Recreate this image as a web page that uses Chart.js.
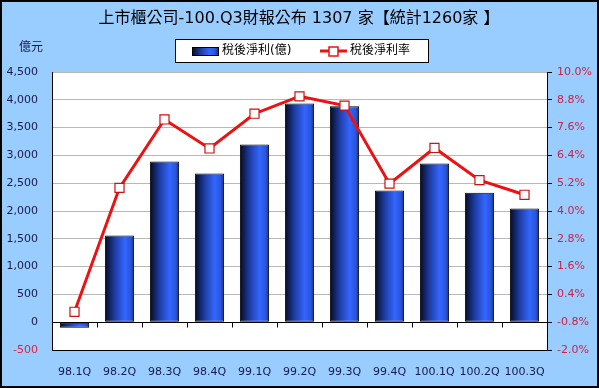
<!DOCTYPE html>
<html>
<head>
<meta charset="utf-8">
<script src="https://cdn.jsdelivr.net/npm/chart.js@4/dist/chart.umd.min.js"></script>
<style>
  html, body { margin: 0; padding: 0; background: #fff; }
  #wrap { width: 599px; height: 388px; }
</style>
</head>
<body>
<div id="wrap"><canvas id="profitChart" width="599" height="388"></canvas></div>
<script>
// 季度
const quarters = ['98.1Q', '98.2Q', '98.3Q', '98.4Q', '99.1Q', '99.2Q', '99.3Q', '99.4Q', '100.1Q', '100.2Q', '100.3Q'];
// 稅後淨利(億)
const netProfit = [-100, 1560, 2890, 2675, 3195, 3935, 3885, 2370, 2855, 2330, 2045];
// 稅後淨利率 (%)
const netMargin = [-0.35, 5.0, 7.95, 6.7, 8.2, 8.95, 8.55, 5.18, 6.72, 5.33, 4.7];

const leftTicks = [-500, 0, 500, 1000, 1500, 2000, 2500, 3000, 3500, 4000, 4500];
const rightTicks = [-2.0, -0.8, 0.4, 1.6, 2.8, 4.0, 5.2, 6.4, 7.6, 8.8, 10.0];

const titleText = '上市櫃公司-100.Q3財報公布 1307 家【統計1260家 】';
const unitText = '億元';
const seriesNames = ['稅後淨利(億)', '稅後淨利率'];

const FONT = '"DejaVu Sans", "Noto Sans CJK TC", sans-serif';
const BG = '#99ccff';
const RED = '#ee1111';

// 橫向漸層 (深藍 -> 亮藍 -> 稍暗)
function barGradient(ctx, x0, x1) {
    const g = ctx.createLinearGradient(x0, 0, x1, 0);
    g.addColorStop(0, '#050a22');
    g.addColorStop(0.35, '#1f3fa8');
    g.addColorStop(0.68, '#3366ff');
    g.addColorStop(0.88, '#2a55dd');
    g.addColorStop(1, '#1a2f80');
    return g;
}

const bgPlugin = {
    id: 'bgPlugin',
    beforeDraw(chart) {
        const { ctx, chartArea: a } = chart;
        ctx.save();
        ctx.fillStyle = BG;
        ctx.fillRect(0, 0, chart.width, chart.height);
        ctx.fillStyle = '#ffffff';
        ctx.fillRect(a.left, a.top, a.right - a.left, a.bottom - a.top);
        ctx.restore();
    },
    beforeDatasetsDraw(chart) {
        const meta = chart.getDatasetMeta(0);
        meta.data.forEach(bar => {
            const half = bar.width / 2;
            bar.options.backgroundColor = barGradient(chart.ctx, bar.x - half, bar.x + half);
        });
    },
    afterDatasetsDraw(chart) {
        // 0 軸線與類別刻度
        const { ctx, chartArea: a, scales } = chart;
        const y0 = Math.round(scales.y.getPixelForValue(0)) + 0.5;
        ctx.save();
        ctx.strokeStyle = '#000';
        ctx.lineWidth = 1;
        ctx.beginPath();
        ctx.moveTo(a.left, y0);
        ctx.lineTo(a.right, y0);
        const step = (a.right - a.left) / quarters.length;
        for (let i = 1; i < quarters.length; i++) {
            const x = Math.round(a.left + step * i) + 0.5;
            ctx.moveTo(x, y0);
            ctx.lineTo(x, y0 + 5);
        }
        ctx.stroke();
        ctx.restore();
    },
    afterDraw(chart) {
        const { ctx } = chart;
        ctx.save();
        // 外框
        ctx.strokeStyle = '#000';
        ctx.lineWidth = 2;
        ctx.strokeRect(1, 1, chart.width - 2, chart.height - 2);
        // 標題
        ctx.fillStyle = '#000';
        ctx.font = '16px ' + FONT;
        ctx.textAlign = 'center';
        ctx.textBaseline = 'middle';
        ctx.fillText(titleText, 299, 19);
        // 單位
        ctx.font = '12px ' + FONT;
        ctx.fillStyle = '#1a1a4a';
        ctx.fillText(unitText, 31, 48);
        // 圖例
        ctx.fillStyle = '#fff';
        ctx.fillRect(175, 39, 253, 23);
        ctx.strokeStyle = '#000';
        ctx.lineWidth = 1;
        ctx.strokeRect(175.5, 39.5, 253, 23);
        ctx.fillStyle = barGradient(ctx, 192, 218);
        ctx.fillRect(192, 47, 26, 8);
        ctx.strokeRect(192.5, 47.5, 26, 8);
        ctx.fillStyle = '#000';
        ctx.textAlign = 'left';
        ctx.font = '12px ' + FONT;
        ctx.fillText(seriesNames[0], 222, 51);
        ctx.strokeStyle = RED;
        ctx.lineWidth = 3;
        ctx.beginPath();
        ctx.moveTo(320, 51);
        ctx.lineTo(347, 51);
        ctx.stroke();
        ctx.fillStyle = '#fff';
        ctx.lineWidth = 1.5;
        ctx.fillRect(329, 47, 9, 9);
        ctx.strokeRect(329, 47, 9, 9);
        ctx.fillStyle = '#000';
        ctx.fillText(seriesNames[1], 350, 51);
        ctx.restore();
    }
};

new Chart(document.getElementById('profitChart').getContext('2d'), {
    type: 'bar',
    data: {
        labels: quarters,
        datasets: [{
            type: 'bar',
            label: seriesNames[0],
            data: netProfit,
            yAxisID: 'y',
            // 可程式化 -> 每根柱子有自己的 options，漸層在 beforeDatasetsDraw 補上
            backgroundColor: () => '#3366ff',
            borderColor: '#000',
            borderWidth: 1,
            borderSkipped: false,
            categoryPercentage: 1,
            barPercentage: 0.65,
            order: 2
        }, {
            type: 'line',
            label: seriesNames[1],
            data: netMargin,
            yAxisID: 'y1',
            borderColor: RED,
            borderWidth: 3,
            pointStyle: 'rect',
            pointRadius: 6.4,
            pointBackgroundColor: '#fff',
            pointBorderColor: '#cc1111',
            pointBorderWidth: 1.2,
            tension: 0,
            order: 1
        }]
    },
    options: {
        responsive: false,
        animation: false,
        devicePixelRatio: 1,
        layout: { padding: { top: 72, left: 0, right: 0, bottom: 0 } },
        plugins: {
            legend: { display: false },
            title: { display: false },
            tooltip: { enabled: false }
        },
        scales: {
            x: {
                grid: { display: false },
                border: { display: false },
                ticks: {
                    color: '#1a1a4a',
                    font: { family: FONT, size: 11 },
                    padding: 8,
                    maxRotation: 0,
                    autoSkip: false
                },
                afterFit: scale => { scale.height = 38; }
            },
            y: {
                position: 'left',
                min: -500,
                max: 4500,
                afterBuildTicks: scale => { scale.ticks = leftTicks.map(v => ({ value: v })); },
                grid: {
                    drawTicks: false,
                    color: ctx => (ctx.tick && ctx.tick.value === -500) ? '#000' : '#b8b8b8',
                    lineWidth: 1
                },
                border: { display: true, color: '#000', width: 1 },
                ticks: {
                    padding: 14,
                    font: { family: FONT, size: 11 },
                    color: ctx => ctx.tick.value < 0 ? '#dd2244' : '#1a1a4a',
                    callback: v => v.toLocaleString('en-US')
                },
                afterFit: scale => { scale.width = 52; }
            },
            y1: {
                position: 'right',
                min: -2.0,
                max: 10.0,
                afterBuildTicks: scale => { scale.ticks = rightTicks.map(v => ({ value: v })); },
                grid: {
                    drawOnChartArea: false,
                    drawTicks: true,
                    tickLength: 5,
                    color: '#000'
                },
                border: { display: true, color: '#000', width: 1 },
                ticks: {
                    padding: 5,
                    font: { family: FONT, size: 11 },
                    color: '#cc2244',
                    callback: v => v.toFixed(1) + '%'
                },
                afterFit: scale => { scale.width = 52; }
            }
        }
    },
    plugins: [bgPlugin]
});
</script>
</body>
</html>
